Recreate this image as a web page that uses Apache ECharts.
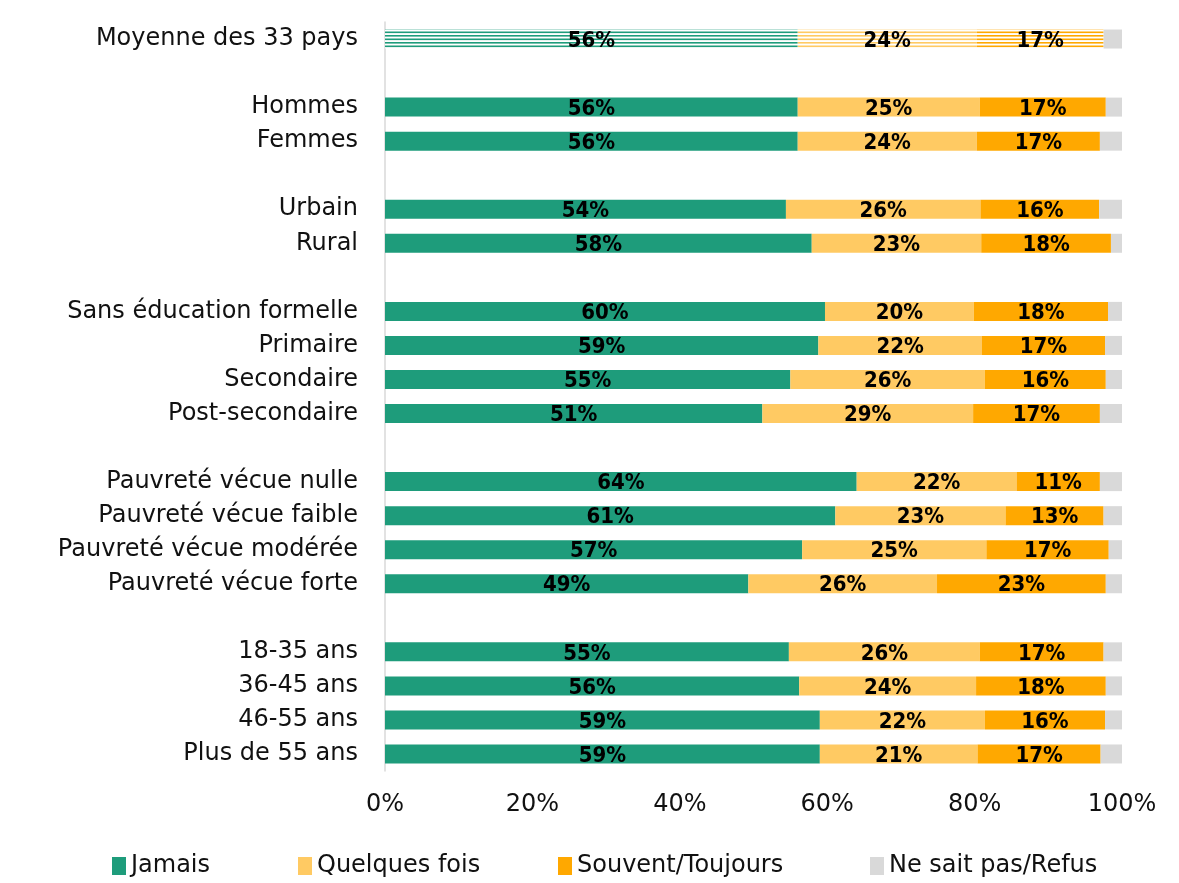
<!DOCTYPE html>
<html>
<head>
<meta charset="utf-8">
<script src="https://cdn.jsdelivr.net/npm/echarts@6/dist/echarts.min.js"></script>
<style>
  html, body { margin: 0; padding: 0; background: #fff; }
  #main { width: 1179px; height: 883px; }
</style>
</head>
<body>
<div id="main"></div>
<script>
// catégories (les chaînes vides font les espaces entre groupes)
var categories = [
    "Moyenne des 33 pays", "",
    "Hommes", "Femmes", "",
    "Urbain", "Rural", "",
    "Sans éducation formelle", "Primaire", "Secondaire", "Post-secondaire", "",
    "Pauvreté vécue nulle", "Pauvreté vécue faible", "Pauvreté vécue modérée", "Pauvreté vécue forte", "",
    "18-35 ans", "36-45 ans", "46-55 ans", "Plus de 55 ans"
];
var jamais = [56.0, "-", 56.0, 56.0, "-", 54.4, 57.9, "-", 59.7, 58.8, 55.0, 51.2, "-", 64.0, 61.1, 56.6, 49.3, "-", 54.8, 56.2, 59.0, 59.0];
var quelques = [24.3, "-", 24.7, 24.3, "-", 26.4, 23.0, "-", 20.2, 22.2, 26.4, 28.6, "-", 21.7, 23.1, 25.0, 25.6, "-", 25.9, 24.0, 22.4, 21.4];
var souvent = [17.2, "-", 17.1, 16.7, "-", 16.1, 17.6, "-", 18.2, 16.7, 16.4, 17.2, "-", 11.3, 13.3, 16.6, 22.9, "-", 16.8, 17.6, 16.3, 16.7];
var nsp = jamais.map(function (v, i) {
    if (v === "-") return "-";
    return +(100 - v - quelques[i] - souvent[i]).toFixed(1);
});
var xTicks = [0, 20, 40, 60, 80, 100];
var names = ["Jamais", "Quelques fois", "Souvent/Toujours", "Ne sait pas/Refus"];

var colors = ["#1e9c7b", "#ffca63", "#ffa800", "#d9d9d9"];

// motif rayé pour la ligne "Moyenne"
function stripes(color) {
    var c = document.createElement("canvas");
    c.width = 4; c.height = 7;
    var ctx = c.getContext("2d");
    ctx.fillStyle = "#ffffff";
    ctx.fillRect(0, 0, 4, 7);
    ctx.fillStyle = color;
    ctx.fillRect(0, 0, 4, 1.6);
    ctx.fillRect(0, 3.5, 4, 1.6);
    return { image: c, repeat: "repeat" };
}

function withPattern(arr, color) {
    return arr.map(function (v, i) {
        if (i === 0) return { value: v, itemStyle: { color: stripes(color) } };
        return v;
    });
}

(function () {
    var myChart = echarts.init(document.getElementById("main"));
    var font = "DejaVu Sans";
    var labelStyle = {
        show: true,
        position: "inside",
        color: "#000",
        fontWeight: "bold",
        fontSize: 22,
        offset: [0, 2],
        fontFamily: "'DejaVu Sans Condensed', 'Liberation Sans', sans-serif",
        formatter: function (p) { return Math.round(p.value) + "%"; }
    };
    var datas = [jamais, quelques, souvent, nsp];
    var series = names.map(function (n, k) {
        return {
            name: n,
            type: "bar",
            stack: "total",
            barWidth: 19,
            data: k < 3 ? withPattern(datas[k], colors[k]) : datas[k],
            itemStyle: { color: colors[k] },
            label: k < 3 ? labelStyle : { show: false }
        };
    });
    // une légende par entrée pour placer chaque élément comme dans l'original
    var legendLeft = [107, 293, 553, 865];
    var legends = names.map(function (n, k) {
        return {
            top: 849,
            left: legendLeft[k],
            itemWidth: 14,
            itemHeight: 18,
            itemGap: 4,
            icon: "rect",
            textStyle: { fontSize: 24, color: "#111", fontFamily: font },
            data: [n]
        };
    });
    var option = {
        animation: false,
        color: colors,
        grid: { left: 385, right: 57, top: 22, bottom: 112 },
        legend: legends,
        xAxis: {
            type: "value",
            min: 0,
            max: 100,
            interval: 20,
            axisLine: { show: false },
            axisTick: { show: false },
            splitLine: { show: false },
            axisLabel: {
                fontSize: 24,
                color: "#111",
                margin: 22,
                fontFamily: font,
                formatter: function (v) { return xTicks.indexOf(v) >= 0 ? v + "%" : ""; }
            }
        },
        yAxis: {
            type: "category",
            inverse: true,
            data: categories,
            axisLine: { show: true, lineStyle: { color: "#d9d9d9", width: 1.5 } },
            axisTick: { show: false },
            axisLabel: { fontSize: 24, color: "#111", margin: 27, fontFamily: font }
        },
        series: series
    };
    myChart.setOption(option);
    window.addEventListener("resize", function () {
        myChart.resize();
    });
})();
</script>
</body>
</html>
